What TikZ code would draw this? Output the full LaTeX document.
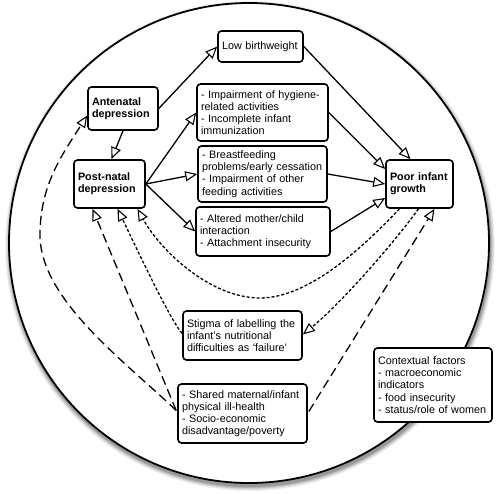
\documentclass[tikz,border=0pt]{standalone}
\usepackage{fontspec}
\setmainfont{Liberation Sans}
\usetikzlibrary{arrows.meta,calc}
\begin{document}
\begin{tikzpicture}[x=1pt,y=-1pt,
  box/.style={draw, line width=1.6pt, rounded corners=3.5pt, fill=white, align=left,
    inner xsep=4pt, inner ysep=0pt, font=\fontsize{10.8}{12.2}\selectfont},
  bbox/.style={box, font=\fontsize{10.8}{12.2}\selectfont\bfseries},
  tip/.style={-{Triangle[length=12pt,width=10pt,fill=white,line width=1.1pt]}},
  conn/.style={line width=1.3pt},
  longdash/.style={conn, dash pattern=on 9pt off 5pt},
  shortdash/.style={conn, dash pattern=on 3pt off 2pt},
]
\useasboundingbox (0,0) rectangle (500,493);
% circle with shadow
\foreach \r/\o in {245/0.05, 244/0.07, 243/0.09, 242/0.12, 241/0.15}
  \fill[black,opacity=\o] (250,246) circle[radius=\r pt];
\draw[line width=1.8pt, fill=white] (249,243) circle[radius=240pt];

% boxes
\node[box, text width=77pt, minimum height=31pt] (low) at (260.5,46.5) {Low birthweight};
\node[bbox, text width=62pt, minimum height=43pt] (ante) at (123,108.5) {Antenatal\\depression};
\node[bbox, text width=63pt, minimum height=48pt] (post) at (109.5,184) {Post-natal\\depression};
\node[box, text width=123pt, minimum height=57pt] (hyg) at (262.5,112.5) {- Impairment of hygiene-\\related activities\\- Incomplete infant\\immunization};
\node[box, text width=121pt, minimum height=56pt] (bf) at (262.5,174) {- Breastfeeding\\problems/early cessation\\- Impairment of other\\feeding activities};
\node[box, text width=126pt, minimum height=49pt] (alt) at (263,231.5) {- Altered mother/child\\interaction\\- Attachment insecurity};
\node[bbox, text width=59pt, minimum height=48pt] (poor) at (419.5,184) {Poor infant\\growth};
\node[box, text width=111pt, minimum height=49pt] (stig) at (242.5,335.5) {Stigma of labelling the\\infant’s nutritional\\difficulties as ‘failure’};
\node[box, text width=121pt, minimum height=59pt] (shared) at (242.5,413.5) {- Shared maternal/infant\\physical ill-health\\- Socio-economic\\disadvantage/poverty};
\node[box, text width=110pt, minimum height=74pt] (ctx) at (433,385) {Contextual factors\\- macroeconomic\\indicators\\- food insecurity\\- status/role of women};

% solid arrows
\draw[conn,tip] (ante.east) -- (low.west);
\draw[conn,tip] (ante.south) -- ($(post.north)+(2,0)$);
\draw[conn,tip] (post.east) -- (hyg.west);
\draw[conn,tip] (post.east) -- (bf.west);
\draw[conn,tip] (post.east) -- (alt.west);
\draw[conn,tip] (low.east) -- ($(poor.north)+(-9,0)$);
\draw[conn,tip] (hyg.east) -- ($(poor.west)+(0,-15)$);
\draw[conn,tip] (bf.east) -- (poor.west);
\draw[conn,tip] (alt.east) -- ($(poor.west)+(0,14)$);

% long dashed
\draw[longdash,tip] ($(shared.west)+(-1,-3)$) .. controls (127,363) and (40,300) .. (40,235)
  .. controls (40,185) and (62,155) .. ($(ante.west)+(0,7)$);
\draw[longdash,tip] ($(shared.west)+(-1,-3)$) -- ($(post.south)+(-17,0)$);
\draw[longdash,tip] ($(shared.east)+(1,-2)$) -- ($(poor.south)+(15,0)$);

% short dashed
\draw[shortdash,tip] ($(stig.west)+(0,-2)$) .. controls (170,320) and (135,245) .. ($(post.south)+(8,0)$);
\draw[shortdash,tip] ($(poor.south)+(-20,0)$) .. controls (365,245) and (310,298) .. (260,298)
  .. controls (210,298) and (160,250) .. ($(post.south)+(28,0)$);
\draw[shortdash,tip] ($(poor.south)+(-1,0)$) .. controls (400,235) and (345,300) .. ($(stig.east)+(0,-1)$);
\end{tikzpicture}
\end{document}
